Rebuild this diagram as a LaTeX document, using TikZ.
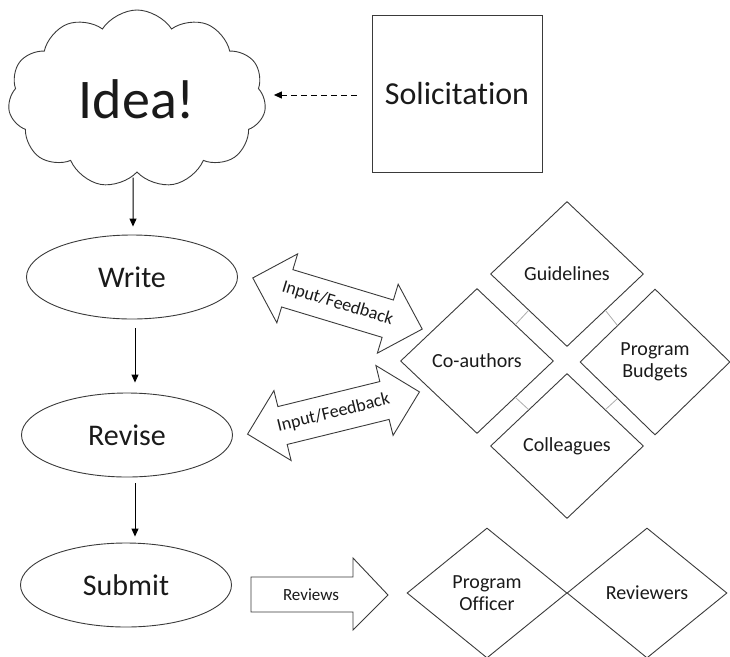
\documentclass[tikz,border=0pt]{standalone}
\usepackage{fontspec}
\setmainfont[Ligatures=NoCommon]{Carlito}
\usetikzlibrary{shapes.geometric,shapes.symbols,calc,arrows.meta}
\definecolor{ln}{HTML}{3A3A3A}
\definecolor{tx}{HTML}{1A1A1A}
\begin{document}
\begin{tikzpicture}[x=1pt,y=-1pt,
  base/.style={draw=ln, line width=0.9pt, text=tx, inner sep=0pt},
  oval/.style={base, ellipse, minimum width=211pt, minimum height=84pt, font=\fontsize{30}{32}\selectfont},
  dia/.style={base, diamond, minimum width=153pt, minimum height=145pt, font=\fontsize{20}{22}\selectfont, align=center},
  dib/.style={base, diamond, minimum width=160pt, minimum height=130pt, font=\fontsize{20}{22}\selectfont, align=center},
  arr/.style={-{Triangle[length=8pt,width=7pt]}, line width=1pt, draw=black},
  link/.style={draw=gray!65, line width=0.8pt},
  blk/.style={draw=ln, line width=0.9pt, fill=white},
  lbl/.style={text=tx, inner sep=0pt},
]
\useasboundingbox (0,0) rectangle (730,656);

% cloud
\node[base, cloud, cloud puffs=11, cloud puff arc=115, aspect=1.45,
      minimum width=258pt, minimum height=178pt,
      font=\fontsize{56}{60}\selectfont] (cloud) at (137,99) {Idea!};

% solicitation
\node[base, rectangle, minimum width=170pt, minimum height=157pt,
      font=\fontsize{32}{34}\selectfont] (sol) at (457,93.5) {Solicitation};

\draw[arr, dash pattern=on 6pt off 4pt] ($(sol.west)+(-15,1.5)$) -- ($(sol.west -| cloud.east)+(9,1.5)$);

% process ovals
\node[oval] (write)  at (132,277) {Write};
\node[oval] (revise) at (127,435) {Revise};
\node[oval] (submit) at (126,585) {Submit};

\draw[arr] ($(cloud.south)+(-4,5)$) -- ($(write.north)+(1,-8)$);
\draw[arr] ($(write.south)+(3,9)$) -- ($(revise.north)+(8,-10)$);
\draw[arr] ($(revise.south)+(8,6)$) -- ($(submit.north)+(9,-6)$);

% diamonds
\node[dia] (guide) at (567,274) {Guidelines};
\node[dia] (coauth) at (477,361) {Co-authors};
\node[dia, minimum width=150pt, minimum height=146pt] (budget) at (655,362) {Program\\Budgets};
\node[dia] (coll) at (567,446) {Colleagues};

\draw[link] ($(coauth.north)!0.5!(coauth.east)$) -- ($(guide.west)!0.5!(guide.south)$);
\draw[link] ($(guide.east)!0.5!(guide.south)$) -- ($(budget.north)!0.5!(budget.west)$);
\draw[link] ($(coauth.east)!0.5!(coauth.south)$) -- ($(coll.west)!0.5!(coll.north)$);
\draw[link] ($(budget.west)!0.5!(budget.south)$) -- ($(coll.north)!0.5!(coll.east)$);

\node[dib] (po) at (487,593) {Program\\Officer};
\node[dib] (rev) at (647,593) {Reviewers};

% double arrows
\begin{scope}[shift={(337.5,303.5)}, rotate=-16.8]
  \draw[blk] (-88.5,0) -- (-52.5,36) -- (-52.5,19.5) -- (52.5,19.5) -- (52.5,36) -- (88.5,0)
    -- (52.5,-36) -- (52.5,-19.5) -- (-52.5,-19.5) -- (-52.5,-36) -- cycle;
\end{scope}
\node[lbl, rotate=-16.8, font=\fontsize{18}{20}\selectfont] (fb1) at (337.5,303.5) {Input/Feedback};

\begin{scope}[shift={(333.5,413)}, rotate=13.8]
  \draw[blk] (-88.5,0) -- (-52.5,36) -- (-52.5,19.5) -- (52.5,19.5) -- (52.5,36) -- (88.5,0)
    -- (52.5,-36) -- (52.5,-19.5) -- (-52.5,-19.5) -- (-52.5,-36) -- cycle;
\end{scope}
\node[lbl, rotate=13.8, font=\fontsize{18}{20}\selectfont] (fb2) at (333.5,413) {Input/Feedback};

% reviews arrow
\draw[blk] (251,577) -- (353,577) -- (353,558) -- (388,595) -- (353,630) -- (353,612) -- (251,612) -- cycle;
\node[lbl, font=\fontsize{17}{19}\selectfont] (revlbl) at (311,595) {Reviews};

\end{tikzpicture}
\end{document}
